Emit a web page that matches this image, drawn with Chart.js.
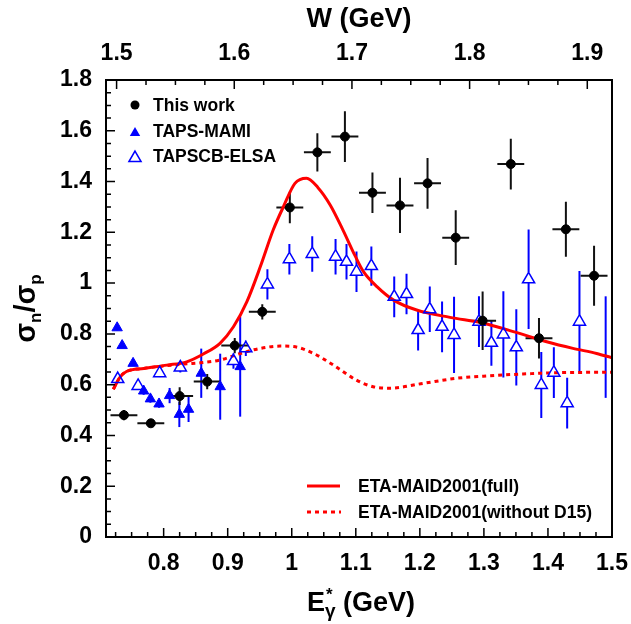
<!DOCTYPE html>
<html><head><meta charset="utf-8">
<script src="https://cdn.jsdelivr.net/npm/chart.js@4.4.1/dist/chart.umd.min.js"></script>
<style>html,body{margin:0;padding:0;background:#fff;}#wrap{width:631px;height:624px;}</style>
</head><body><div id="wrap"><canvas id="c" width="631" height="624"></canvas></div>
<script>
// ---- data ----
const thisWorkE   = [0.738,0.780,0.825,0.868,0.911,0.954,0.997,1.040,1.083,1.126,1.169,1.212,1.256,1.298,1.342,1.386,1.428,1.472];
const thisWorkR   = [0.480,0.448,0.555,0.612,0.754,0.887,1.298,1.515,1.577,1.356,1.306,1.393,1.179,0.852,1.469,0.783,1.212,1.029];
const thisWorkErr = [0.020,0.015,0.035,0.030,0.030,0.030,0.062,0.075,0.100,0.080,0.109,0.100,0.108,0.115,0.100,0.080,0.108,0.118];
const thisWorkEBin = 0.021;

const mamiE   = [0.7274,0.7352,0.7523,0.7688,0.7793,0.7928,0.8093,0.8245,0.8389,0.8587,0.8883,0.9195];
const mamiR   = [0.824,0.754,0.684,0.575,0.544,0.524,0.557,0.483,0.503,0.645,0.592,0.671];
const mamiErr = [0.010,0.010,0.010,0.015,0.015,0.015,0.030,0.050,0.050,0.097,0.130,0.197];

const elsaE   = [0.7283,0.7601,0.7938,0.826,0.909,0.9283,0.962,0.9963,1.032,1.0684,1.0855,1.1011,1.1243,1.160,1.1792,1.1973,1.2155,1.2347,1.2534,1.2923,1.3117,1.3304,1.3506,1.3698,1.3896,1.4092,1.430,1.4492,1.4901];
const elsaR   = [0.622,0.595,0.645,0.668,0.693,0.743,0.995,1.094,1.115,1.104,1.084,1.045,1.067,0.946,0.957,0.815,0.897,0.828,0.796,0.848,0.765,0.798,0.747,1.015,0.599,0.647,0.527,0.848,0.748];
const elsaErr = [0.015,0.015,0.015,0.020,0.030,0.030,0.060,0.060,0.070,0.070,0.070,0.080,0.077,0.080,0.080,0.080,0.090,0.100,0.150,0.100,0.090,0.170,0.150,0.196,0.130,0.100,0.100,0.200,0.200];

const maidFullE = [0.7214,0.732,0.742,0.769,0.805,0.836,0.862,0.888,0.909,0.930,0.951,0.971,0.987,1.005,1.023,1.041,1.060,1.080,1.099,1.112,1.133,1.159,1.195,1.247,1.299,1.346,1.398,1.439,1.476,1.500];
const maidFullR = [0.582,0.630,0.652,0.664,0.677,0.690,0.721,0.763,0.828,0.927,1.065,1.209,1.301,1.393,1.413,1.376,1.308,1.209,1.107,1.045,0.986,0.933,0.894,0.865,0.842,0.809,0.769,0.743,0.723,0.706];

const maidNoD15E = [0.7214,0.732,0.742,0.769,0.805,0.836,0.857,0.888,0.920,0.951,0.982,1.003,1.034,1.065,1.101,1.127,1.153,1.205,1.257,1.309,1.361,1.413,1.500];
const maidNoD15R = [0.582,0.630,0.652,0.664,0.675,0.682,0.686,0.697,0.723,0.743,0.752,0.750,0.723,0.677,0.618,0.592,0.586,0.605,0.625,0.635,0.642,0.647,0.649];

const xTicks = [0.8,0.9,1,1.1,1.2,1.3,1.4,1.5];
const yTicks = [0,0.2,0.4,0.6,0.8,1,1.2,1.4,1.6,1.8];
const wTicks = [1.5,1.6,1.7,1.8,1.9];
const xRange = [0.71,1.5];
const yRange = [0,1.8];
const wRange = [1.491,1.921];

// ---- styling ----
const FONT = "'Liberation Sans', Arial, Helvetica, sans-serif";
const BLUE = '#0000ff';
const RED = '#ff0000';

const pts = (xs, ys) => xs.map((x,i)=>({x, y: ys[i]}));

function tickValues(min, max, step){
  const out=[];
  for(let k=Math.ceil(min/step-1e-6); k*step<=max+1e-6; k++) out.push(k*step);
  return out;
}
function isMajor(v, major){ const r=v/major; return Math.abs(r-Math.round(r))<1e-6; }

const errorBars = {
  id:'errorBars',
  beforeDatasetsDraw(chart){
    const {ctx, chartArea:a, scales:{x,y}} = chart;
    ctx.save();
    ctx.beginPath(); ctx.rect(a.left,a.top,a.right-a.left,a.bottom-a.top); ctx.clip();
    ctx.strokeStyle=BLUE; ctx.lineWidth=2;
    mamiE.forEach((e,i)=>{
      const px=x.getPixelForValue(e);
      ctx.beginPath(); ctx.moveTo(px,y.getPixelForValue(mamiR[i]+mamiErr[i])); ctx.lineTo(px,y.getPixelForValue(mamiR[i]-mamiErr[i])); ctx.stroke();
    });
    elsaE.forEach((e,i)=>{
      const px=x.getPixelForValue(e), py=y.getPixelForValue(elsaR[i]);
      const t=y.getPixelForValue(elsaR[i]+elsaErr[i]), b=y.getPixelForValue(elsaR[i]-elsaErr[i]);
      const hide = e>1.48;
      ctx.beginPath();
      if(hide){ ctx.moveTo(px,t); ctx.lineTo(px,b); }
      else {
        if(t<py-7){ ctx.moveTo(px,t); ctx.lineTo(px,py-7); }
        if(b>py+3.5){ ctx.moveTo(px,py+3.5); ctx.lineTo(px,b); }
      }
      ctx.stroke();
    });
    ctx.strokeStyle='#111'; ctx.lineWidth=2;
    thisWorkE.forEach((e,i)=>{
      const px=x.getPixelForValue(e), py=y.getPixelForValue(thisWorkR[i]);
      ctx.beginPath();
      ctx.moveTo(px,y.getPixelForValue(thisWorkR[i]+thisWorkErr[i])); ctx.lineTo(px,y.getPixelForValue(thisWorkR[i]-thisWorkErr[i]));
      ctx.moveTo(x.getPixelForValue(e-thisWorkEBin),py); ctx.lineTo(x.getPixelForValue(e+thisWorkEBin),py);
      ctx.stroke();
    });
    ctx.restore();
  }
};

const frameTicks = {
  id:'frameTicks',
  afterDatasetsDraw(chart){
    const {ctx, chartArea:a, scales:{x,y,x2}} = chart;
    ctx.save();
    ctx.strokeStyle='#000'; ctx.lineWidth=2;
    ctx.strokeRect(a.left,a.top,a.right-a.left,a.bottom-a.top);
    ctx.lineWidth=1.5;
    ctx.beginPath();
    tickValues(xRange[0],xRange[1],0.025).forEach(v=>{
      const p=x.getPixelForValue(v), L=isMajor(v,0.1)?9:5;
      ctx.moveTo(p,a.bottom); ctx.lineTo(p,a.bottom-L);
    });
    tickValues(wRange[0],wRange[1],0.025).forEach(v=>{
      const p=x2.getPixelForValue(v), L=isMajor(v,0.1)?9:5;
      ctx.moveTo(p,a.top); ctx.lineTo(p,a.top+L);
    });
    tickValues(yRange[0],yRange[1],0.05).forEach(v=>{
      const p=y.getPixelForValue(v), L=isMajor(v,0.2)?9:5;
      ctx.moveTo(a.left,p); ctx.lineTo(a.left+L,p);
    });
    ctx.stroke();
    ctx.restore();
  }
};

function tri(ctx,cx,cy,r,fill){
  ctx.beginPath();
  ctx.moveTo(cx,cy-r);
  ctx.lineTo(cx+r*Math.sin(2*Math.PI/3),cy-r*Math.cos(2*Math.PI/3));
  ctx.lineTo(cx+r*Math.sin(4*Math.PI/3),cy-r*Math.cos(4*Math.PI/3));
  ctx.closePath();
  if(fill){ctx.fill();} else {ctx.stroke();}
}

const legendsAndTitles = {
  id:'legendsAndTitles',
  afterDraw(chart){
    const {ctx, chartArea:a} = chart;
    ctx.save();
    ctx.font = "bold 17.5px "+FONT; ctx.textBaseline='middle'; ctx.textAlign='left'; ctx.fillStyle='#000';
    ctx.beginPath(); ctx.arc(135,105,4.5,0,2*Math.PI); ctx.fill();
    ctx.fillText('This work',153,106);
    ctx.fillStyle=BLUE; tri(ctx,135,133,6,true);
    ctx.fillStyle='#000'; ctx.fillText('TAPS-MAMI',153,132);
    ctx.strokeStyle=BLUE; ctx.lineWidth=1.5; tri(ctx,135,158,7,false);
    ctx.fillStyle='#000'; ctx.fillText('TAPSCB-ELSA',153,157);
    ctx.strokeStyle=RED; ctx.lineWidth=3;
    ctx.beginPath(); ctx.moveTo(307,486); ctx.lineTo(340,486); ctx.stroke();
    ctx.setLineDash([4,4]);
    ctx.beginPath(); ctx.moveTo(307,512); ctx.lineTo(341,512); ctx.stroke();
    ctx.setLineDash([]);
    ctx.fillStyle='#000';
    ctx.fillText('ETA-MAID2001(full)',358,487);
    ctx.fillText('ETA-MAID2001(without D15)',358,513);

    const big="bold 27px "+FONT, sup="bold 17px "+FONT, sub="bold 19px "+FONT;
    ctx.textBaseline='alphabetic';
    ctx.font=big; const wE=ctx.measureText('E').width;
    ctx.font=sub; const wG=ctx.measureText('γ').width;
    ctx.font=big; const wR=ctx.measureText(' (GeV)').width;
    const total=wE+wG+wR;
    let sx=(a.left+a.right)/2-total/2+2;
    const by=611;
    ctx.font=big; ctx.fillText('E',sx,by);
    ctx.font=sup; ctx.fillText('*',sx+wE+1,by-11);
    ctx.font=sub; ctx.fillText('γ',sx+wE,by+6);
    ctx.font=big; ctx.fillText(' (GeV)',sx+wE+wG,by);

    ctx.save();
    ctx.translate(35,(a.top+a.bottom)/2);
    ctx.rotate(-Math.PI/2);
    const sg="bold 29px "+FONT, sb="bold 17px "+FONT;
    const parts=[['σ',sg,0],['n',sb,6],['/',sg,0],['σ',sg,0],['p',sb,6]];
    let w=0; parts.forEach(p=>{ctx.font=p[1]; w+=ctx.measureText(p[0]).width;});
    let cx=-w/2;
    parts.forEach(p=>{ctx.font=p[1]; ctx.fillText(p[0],cx,p[2]); cx+=ctx.measureText(p[0]).width;});
    ctx.restore();
    ctx.restore();
  }
};

const tickFont = {family: FONT, weight:'bold', size:23};
const noPad = (s)=>{ s.paddingLeft=0; s.paddingRight=0; s.paddingTop=0; s.paddingBottom=0; };

new Chart(document.getElementById('c'), {
  type:'scatter',
  data:{ datasets:[
    { label:'This work', data: pts(thisWorkE,thisWorkR), pointStyle:'circle', pointRadius:4.5, pointBackgroundColor:'#000', pointBorderColor:'#000', pointBorderWidth:1, order:1 },
    { label:'TAPS-MAMI', data: pts(mamiE,mamiR), pointStyle:'triangle', pointRadius:6, pointBackgroundColor:BLUE, pointBorderColor:BLUE, pointBorderWidth:1, order:2 },
    { label:'TAPSCB-ELSA', data: pts(elsaE,elsaR), pointStyle:'triangle', pointRadius:(c)=> (c.raw && c.raw.x>1.48 ? 0 : 7), pointBackgroundColor:'rgba(0,0,0,0)', pointBorderColor:BLUE, pointBorderWidth:1.5, order:3 },
    { label:'ETA-MAID2001(full)', data: pts(maidFullE,maidFullR), showLine:true, borderColor:RED, borderWidth:3, pointRadius:0, cubicInterpolationMode:'monotone', order:4 },
    { label:'ETA-MAID2001(without D15)', data: pts(maidNoD15E,maidNoD15R), showLine:true, borderColor:RED, borderWidth:3, borderDash:[4,4], pointRadius:0, cubicInterpolationMode:'monotone', order:5 }
  ]},
  options:{
    responsive:false, animation:false, devicePixelRatio:1,
    layout:{padding:{left:0,right:19,top:0,bottom:0}},
    plugins:{legend:{display:false}, tooltip:{enabled:false}},
    scales:{
      x:{ type:'linear', position:'bottom', min:xRange[0], max:xRange[1],
          afterBuildTicks:(s)=>{ s.ticks = xTicks.map(v=>({value:v})); },
          afterFit:(s)=>{ s.height = 87; noPad(s); },
          grid:{display:false, drawTicks:false}, border:{display:false},
          ticks:{ font:tickFont, color:'#000', padding:13, maxRotation:0, autoSkip:false, callback:(v)=>String(v) } },
      x2:{ type:'linear', position:'top', min:wRange[0], max:wRange[1],
          afterBuildTicks:(s)=>{ s.ticks = wTicks.map(v=>({value:v})); },
          afterFit:(s)=>{ s.height = 80; noPad(s); },
          grid:{display:false, drawTicks:false}, border:{display:false},
          title:{display:true, text:'W (GeV)', color:'#000', font:{family:FONT, weight:'bold', size:27}, padding:{top:3,bottom:0}},
          ticks:{ font:tickFont, color:'#000', padding:13, maxRotation:0, autoSkip:false, callback:(v)=>String(v) } },
      y:{ type:'linear', position:'left', min:yRange[0], max:yRange[1],
          afterBuildTicks:(s)=>{ s.ticks = yTicks.map(v=>({value:v})); },
          afterFit:(s)=>{ s.width = 106; noPad(s); },
          grid:{display:false, drawTicks:false}, border:{display:false},
          ticks:{ font:tickFont, color:'#000', padding:14, autoSkip:false, callback:(v)=>String(v) } }
    }
  },
  plugins:[errorBars, frameTicks, legendsAndTitles]
});
</script></body></html>
